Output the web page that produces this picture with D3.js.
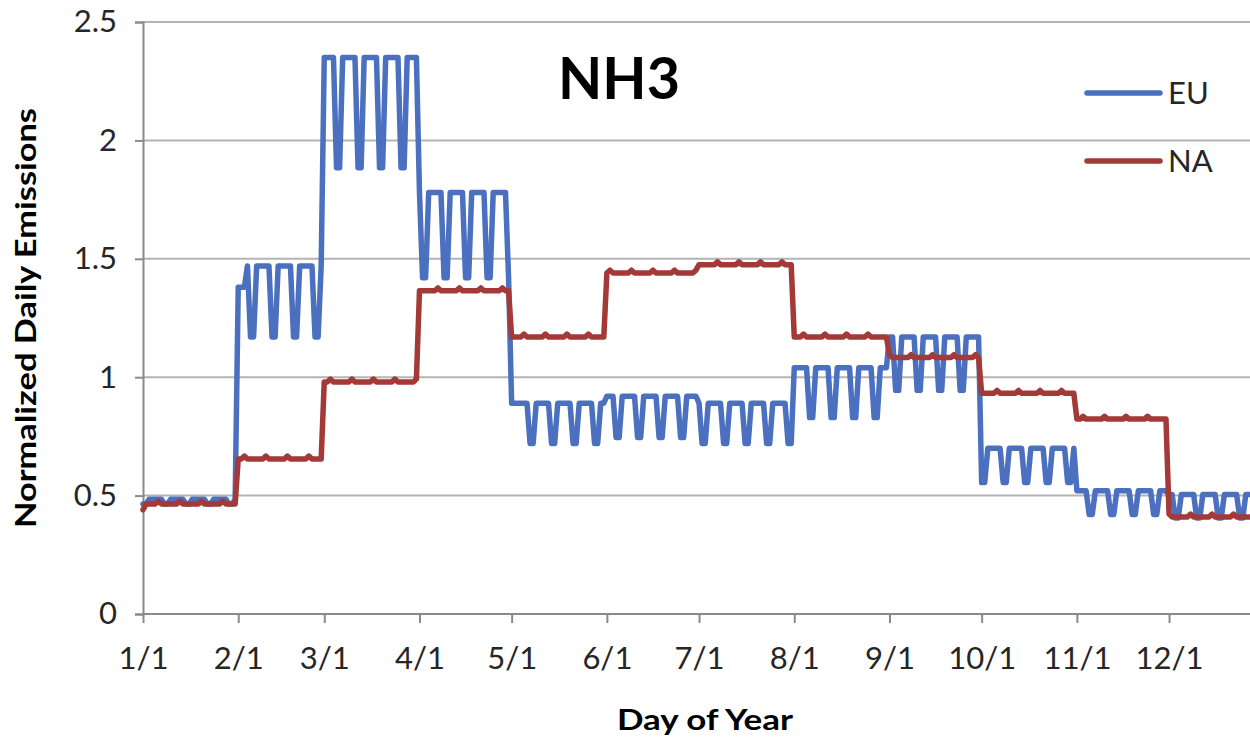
<!DOCTYPE html>
<html>
<head>
<meta charset="utf-8">
<script src="https://cdn.jsdelivr.net/npm/d3@7"></script>
<style>
  body { margin: 0; background: #ffffff; }
  svg { display: block; }
  text { font-family: Lato, "Open Sans", sans-serif; }
</style>
</head>
<body>
<svg id="chart" width="1250" height="740"></svg>
<script>
// Daily NH3 emission factors for 2005, built from monthly levels and a weekday/weekend split.
const year = 2005;
const monthLabels = ["1/1", "2/1", "3/1", "4/1", "5/1", "6/1", "7/1", "8/1", "9/1", "10/1", "11/1", "12/1"];
const yTickValues = [0, 0.5, 1, 1.5, 2, 2.5];
const yTickLabels = ["0", "0.5", "1", "1.5", "2", "2.5"];

// EU: level on working days and on Saturdays/Sundays, per month (Jan..Dec)
const euWeekday = [0.485, 1.47, 2.35, 1.78, 0.89, 0.92, 0.89, 1.04, 1.17, 0.70, 0.52, 0.505];
const euWeekend = [0.465, 1.17, 1.885, 1.42, 0.72, 0.745, 0.72, 0.83, 0.945, 0.555, 0.42, 0.405];
// individual days that differ from the monthly pattern
const euSpecialDays = [["2005-02-01", 1.38], ["2005-02-02", 1.38], ["2005-02-03", 1.38], ["2005-05-01", 0.89]];

// NA: monthly level plus a small day-of-week bump (Sun..Sat)
const naMonthly = [0.465, 0.655, 0.98, 1.365, 1.17, 1.44, 1.475, 1.17, 1.083, 0.932, 0.823, 0.41];
const naWeekdayBump = [0, 0, 0, 0, 0.012, 0, 0];
const naSpecialDays = [["2005-01-01", 0.44]];

const seriesNames = ["EU", "NA"];
const seriesColors = ["#4a70bf", "#a33a37"];

const svg = d3.select("#chart");
const W = 1250, H = 740;
const margin = { left: 143, top: 22, bottom: 614 };
const parseDay = d3.timeParse("%Y-%m-%d");

const start = new Date(year, 0, 1);
const end = new Date(year + 1, 0, 1);
const days = d3.timeDay.range(start, end);

const x = d3.scaleTime().domain([start, end]).range([margin.left, margin.left + 365 * 3.072]);
const y = d3.scaleLinear().domain([0, 2.5]).range([margin.bottom, margin.top]);

const euSpecial = new Map(euSpecialDays.map(([d, v]) => [+parseDay(d), v]));
const naSpecial = new Map(naSpecialDays.map(([d, v]) => [+parseDay(d), v]));

const euSeries = days.map(d => {
  const wd = d.getDay();
  const weekend = wd === 0 || wd === 6;
  const v = euSpecial.has(+d) ? euSpecial.get(+d) : (weekend ? euWeekend[d.getMonth()] : euWeekday[d.getMonth()]);
  return { date: d, value: v };
});
const naSeries = days.map(d => {
  const v = naSpecial.has(+d) ? naSpecial.get(+d) : naMonthly[d.getMonth()] + naWeekdayBump[d.getDay()];
  return { date: d, value: v };
});

// gridlines
svg.append("g")
  .selectAll("line")
  .data(yTickValues.filter(v => v > 0))
  .join("line")
  .attr("x1", margin.left).attr("x2", W)
  .attr("y1", d => y(d)).attr("y2", d => y(d))
  .attr("stroke", "#b4b4b4").attr("stroke-width", 2);

// y axis
const yAxis = svg.append("g")
  .attr("transform", `translate(${margin.left},0)`)
  .call(d3.axisLeft(y).tickValues(yTickValues).tickSize(8).tickPadding(18)
    .tickFormat((d, i) => yTickLabels[i]));
yAxis.select(".domain").attr("stroke", "#8a8a8a").attr("stroke-width", 2);
yAxis.selectAll(".tick line").attr("stroke", "#8a8a8a").attr("stroke-width", 2);
yAxis.selectAll(".tick text").attr("font-size", 31).attr("fill", "#262626")
  .attr("font-family", "Lato, sans-serif");

// x axis
const monthStarts = d3.timeMonth.range(start, end);
const xAxis = svg.append("g")
  .attr("transform", `translate(0,${margin.bottom})`)
  .call(d3.axisBottom(x).tickValues(monthStarts).tickSize(9).tickPadding(24)
    .tickFormat((d, i) => monthLabels[i]).tickSizeOuter(0));
xAxis.select(".domain").attr("stroke", "#8a8a8a").attr("stroke-width", 2)
  .attr("d", `M${margin.left},0H${W}`);
xAxis.selectAll(".tick line").attr("stroke", "#8a8a8a").attr("stroke-width", 2);
xAxis.selectAll(".tick text").attr("font-size", 31).attr("fill", "#262626")
  .attr("font-family", "Lato, sans-serif");

// series lines
const line = d3.line().x(d => x(d.date)).y(d => y(d.value));
[euSeries, naSeries].forEach((s, i) => {
  svg.append("path")
    .datum(s)
    .attr("fill", "none")
    .attr("stroke", seriesColors[i])
    .attr("stroke-width", 5.5)
    .attr("stroke-linejoin", "round")
    .attr("stroke-linecap", "round")
    .attr("d", line);
});

// title
svg.append("text")
  .attr("x", 619).attr("y", 99)
  .attr("text-anchor", "middle")
  .attr("font-size", 58).attr("font-weight", 700)
  .attr("fill", "#000")
  .attr("textLength", 122).attr("lengthAdjust", "spacingAndGlyphs")
  .text("NH3");

// legend
const legend = svg.append("g");
seriesNames.forEach((name, i) => {
  const ly = 93 + i * 68;
  legend.append("line")
    .attr("x1", 1087).attr("x2", 1160).attr("y1", ly).attr("y2", ly)
    .attr("stroke", seriesColors[i]).attr("stroke-width", 5.5).attr("stroke-linecap", "round");
  legend.append("text")
    .attr("x", 1168).attr("y", ly + 11)
    .attr("font-size", 31).attr("fill", "#262626")
    .text(name);
});

// axis titles
svg.append("text")
  .attr("transform", "translate(36,318) rotate(-90)")
  .attr("text-anchor", "middle")
  .attr("font-size", 28).attr("font-weight", 700)
  .attr("fill", "#000")
  .attr("textLength", 420).attr("lengthAdjust", "spacingAndGlyphs")
  .text("Normalized Daily Emissions");

svg.append("text")
  .attr("x", 705).attr("y", 730)
  .attr("text-anchor", "middle")
  .attr("font-size", 28).attr("font-weight", 700)
  .attr("fill", "#000")
  .attr("textLength", 176).attr("lengthAdjust", "spacingAndGlyphs")
  .text("Day of Year");
</script>
</body>
</html>
